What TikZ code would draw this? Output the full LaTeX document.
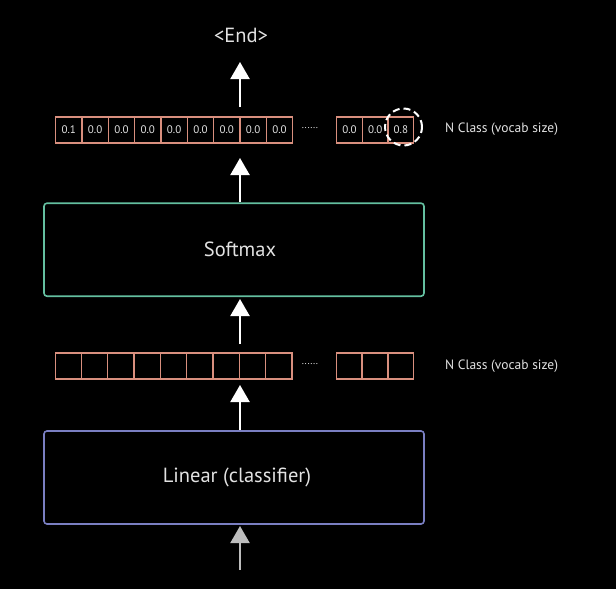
\documentclass[tikz,border=0pt]{standalone}
\usepackage{fontspec}
\setmainfont{PT Sans}
\usetikzlibrary{arrows.meta}
\definecolor{cellc}{HTML}{D98F7E}
\definecolor{greenc}{HTML}{64BFA0}
\definecolor{bluec}{HTML}{7A7FC2}
\definecolor{txtc}{HTML}{E2E2E2}
\definecolor{grayarr}{HTML}{BDBDBD}
\tikzset{
  cellbox/.style={draw=cellc, line width=1.3pt, minimum width=26.3pt, minimum height=26pt, inner sep=0pt, anchor=west, text=txtc, font=\fontsize{11}{12}\selectfont},
  bigbox/.style={line width=1.6pt, rounded corners=3pt, minimum width=380pt, minimum height=93pt},
  boxtext/.style={text=txtc, font=\fontsize{20.5}{23}\selectfont},
  uparrow/.style={-{Triangle[width=19pt,length=17pt]}, line width=2.2pt, draw=white},
  sidelabel/.style={anchor=west, text=txtc, font=\fontsize{13.5}{15}\selectfont, inner sep=0pt},
  dots/.style={text=txtc, font=\fontsize{10}{12}\selectfont, inner sep=0pt}
}
\begin{document}
\begin{tikzpicture}[x=1pt,y=-1pt]
\fill[black] (0,0) rectangle (616,589);
\useasboundingbox (0,0) rectangle (616,589);

% End label
\node[boxtext] (endl) at (241,35) {<End>};

% top vector
\foreach \i/\v in {0/0.1,1/0.0,2/0.0,3/0.0,4/0.0,5/0.0,6/0.0,7/0.0,8/0.0} {
  \node[cellbox] (t\i) at ({55+\i*26.33},130) {\v};
}
\node[dots] (tdots) at (310,128) {......};
\foreach \i/\v in {0/0.0,1/0.0,2/0.8} {
  \node[cellbox, minimum width=25.7pt] (tr\i) at ({336+\i*25.7},130) {\v};
}
\node[circle, draw=white, line width=2pt, dash pattern=on 7pt off 4pt, minimum size=37pt, inner sep=0pt] (hl) at (403.5,127) {};
\node[sidelabel] (tlab) at (445,129) {N Class (vocab size)};

% softmax
\node[bigbox, draw=greenc] (soft) at (234,249.7) {};
\node[boxtext] (softt) at (240,249) {Softmax};

% bottom vector
\foreach \i in {0,...,8} {
  \node[cellbox] (b\i) at ({54.5+\i*26.33},366) {};
}
\node[dots] (bdots) at (310,364) {......};
\foreach \i in {0,1,2} {
  \node[cellbox, minimum width=25.7pt] (br\i) at ({335.5+\i*25.9},366) {};
}
\node[sidelabel] (blab) at (445,366) {N Class (vocab size)};

% linear
\node[bigbox, draw=bluec] (lin) at (234,477.5) {};
\node[boxtext] (lint) at (237,477) {Linear (classifier)};

% arrow coordinates
\coordinate (a1s) at (240,107);
\coordinate (a1e) at (240,62);
\coordinate (a2e) at (240,158);
\coordinate (a3e) at (240,299);
\coordinate (a3s) at (240,344);
\coordinate (a4e) at (240,385);
\coordinate (a5s) at (240,570);
\coordinate (a5e) at (240,526);

\draw[uparrow] (a1s) -- (a1e);
\draw[uparrow] (soft.north -| a2e) -- (a2e);
\draw[uparrow] (a3s) -- (a3e);
\draw[uparrow] (lin.north -| a4e) -- (a4e);
\draw[uparrow, draw=grayarr] (a5s) -- (a5e);
\end{tikzpicture}
\end{document}
